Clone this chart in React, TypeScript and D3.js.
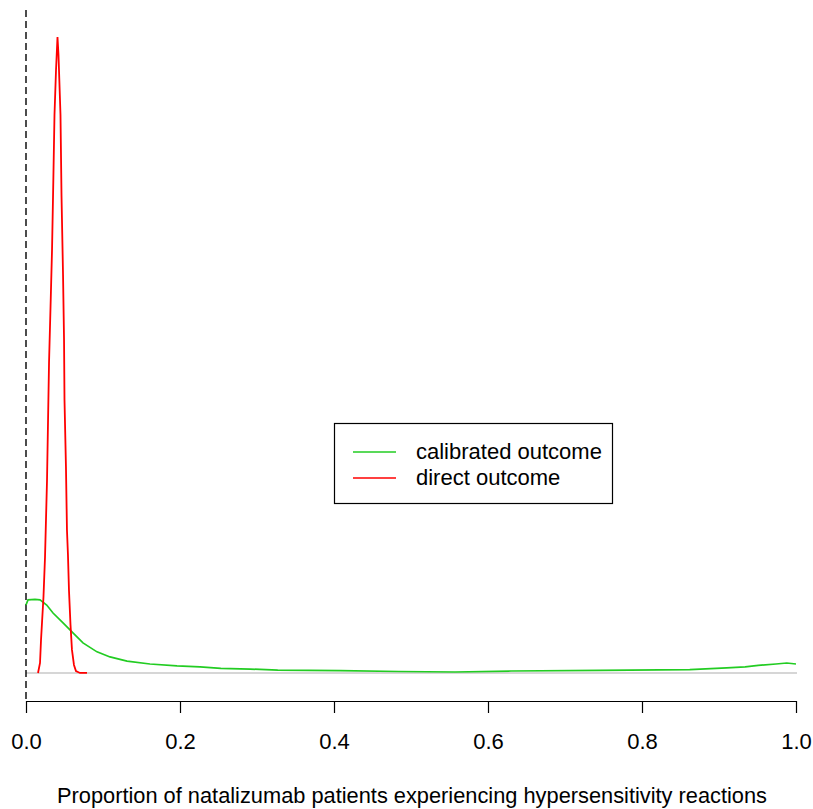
import { useEffect, useRef } from "react";
import * as d3 from "d3";

// proportion values (x) and density (y)
const directX = [0.0156, 0.0182, 0.0195, 0.0227, 0.0247, 0.0273, 0.0299, 0.0321, 0.0338, 0.0355, 0.037, 0.039, 0.0409, 0.0422, 0.0448, 0.0461, 0.0481, 0.0494, 0.05, 0.0519, 0.0532, 0.0545, 0.0558, 0.0578, 0.0597, 0.0623, 0.0649, 0.0701, 0.0792];
const directY = [0, 0.41, 1.36, 3.13, 4.78, 7.95, 12.77, 15.37, 17.43, 20.31, 22.99, 24.85, 26.2, 25.46, 22.99, 19.69, 16.4, 13.72, 11.25, 8.49, 5.89, 4.86, 3.42, 1.98, 0.95, 0.33, 0.08, 0, 0];

const calibX = [0, 0.0026, 0.0117, 0.0182, 0.0269, 0.0351, 0.0481, 0.061, 0.074, 0.0922, 0.1091, 0.1312, 0.161, 0.1961, 0.226, 0.253, 0.291, 0.327, 0.408, 0.484, 0.557, 0.63, 0.745, 0.862, 0.91, 0.934, 0.951, 0.974, 0.988, 1.0];
const calibY = [2.8, 3.01, 3.03, 3.01, 2.8, 2.47, 2.06, 1.65, 1.24, 0.87, 0.66, 0.49, 0.37, 0.29, 0.25, 0.19, 0.16, 0.12, 0.1, 0.06, 0.04, 0.08, 0.11, 0.14, 0.21, 0.25, 0.31, 0.37, 0.41, 0.37];

const xTicks = [0, 0.2, 0.4, 0.6, 0.8, 1.0];
const legendLabels = ["calibrated outcome", "direct outcome"];
const legendColors = ["#22cc22", "#ff0000"];
const xTitle = "Proportion of natalizumab patients experiencing hypersensitivity reactions";

const FONT = "'Liberation Sans', Arial, sans-serif";

const App = () => {
  const axisRef = useRef<SVGGElement>(null);

  const ymax = d3.max(directY) as number;
  const x = d3.scaleLinear().domain([0, 1]).range([26, 796]);
  const y = d3.scaleLinear().domain([-0.04 * ymax, 1.04 * ymax]).range([698.4, 11.6]);

  const line = d3
    .line<[number, number]>()
    .x((d) => x(d[0]))
    .y((d) => y(d[1]));

  const calib = calibX.map((v, i) => [v, calibY[i]] as [number, number]);
  const direct = directX.map((v, i) => [v, directY[i]] as [number, number]);

  useEffect(() => {
    const g = d3.select(axisRef.current);
    g.call(
      d3
        .axisBottom(x)
        .tickValues(xTicks)
        .tickFormat(d3.format(".1f"))
        .tickSize(12)
        .tickSizeOuter(0)
        .tickPadding(20)
    );
    g.select(".domain").attr("stroke", "#000").attr("stroke-width", 1.2);
    g.selectAll(".tick line").attr("stroke", "#000").attr("stroke-width", 1.2);
    g.selectAll(".tick text")
      .attr("font-family", FONT)
      .attr("font-size", 22)
      .attr("fill", "#000");
  }, []);

  return (
    <svg
      width={813}
      height={809}
      style={{ position: "absolute", left: 0, top: 0, background: "#fff" }}
    >
      {/* zero line */}
      <line x1={x(0)} x2={797} y1={y(0)} y2={y(0)} stroke="#c8c8c8" strokeWidth={1.5} />
      {/* dashed reference at 0 */}
      <line
        x1={x(0)}
        x2={x(0)}
        y1={10}
        y2={700}
        stroke="#000"
        strokeWidth={1.4}
        strokeDasharray="7,4"
      />
      <path d={line(calib) ?? ""} fill="none" stroke={legendColors[0]} strokeWidth={1.7} />
      <path d={line(direct) ?? ""} fill="none" stroke={legendColors[1]} strokeWidth={1.8} />

      <g ref={axisRef} transform="translate(0,701)" />

      <text
        x={(x(0) + x(1)) / 2 + 1}
        y={803}
        textAnchor="middle"
        fontFamily={FONT}
        fontSize={21.8}
        fill="#000"
      >
        {xTitle}
      </text>

      {/* legend */}
      <g>
        <rect x={334.5} y={423.5} width={278} height={80} fill="#fff" stroke="#000" strokeWidth={1.2} />
        {legendLabels.map((lab, i) => (
          <g key={lab}>
            <line
              x1={353}
              x2={396}
              y1={452 + i * 26}
              y2={452 + i * 26}
              stroke={legendColors[i]}
              strokeWidth={1.6}
            />
            <text x={416} y={459 + i * 26} fontFamily={FONT} fontSize={22} fill="#000">
              {lab}
            </text>
          </g>
        ))}
      </g>
    </svg>
  );
};

export default App;
